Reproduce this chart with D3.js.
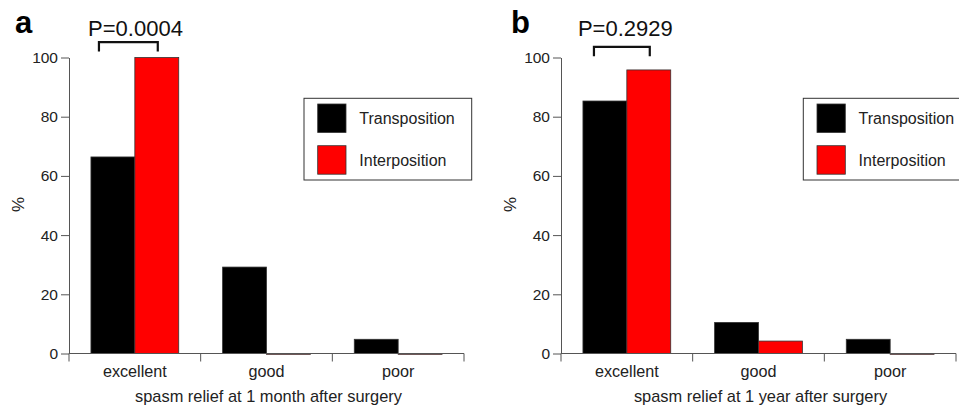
<!DOCTYPE html>
<html>
<head>
<meta charset="utf-8">
<script src="https://cdn.jsdelivr.net/npm/d3@7"></script>
<style>
  body { margin: 0; background: #fff; }
  svg { display: block; font-family: 'Liberation Sans', Arial, sans-serif; }
</style>
</head>
<body>
<div id="chart"></div>
<script>
// data (percent of patients)
const categories = ['excellent', 'good', 'poor'];
const series = ['Transposition', 'Interposition'];
const colors = ['#000000', '#ff0000'];
const yTicks = [0, 20, 40, 60, 80, 100];

const monthTransposition = [66.4, 29.2, 4.8];
const monthInterposition = [100, 0, 0];
const yearTransposition = [85.3, 10.5, 4.8];
const yearInterposition = [95.8, 4.2, 0];

const panels = [
  {
    letter: 'a', left: 69, legendX: 235, bracketY: 105.2, bracketL: 8,
    pText: 'P=0.0004', pX: 66.5,
    title: 'spasm relief at 1 month after surgery',
    values: [monthTransposition, monthInterposition],
  },
  {
    letter: 'b', left: 561, legendX: 242.3, bracketY: 103.6, bracketL: 11,
    pText: 'P=0.2929', pX: 64.3,
    title: 'spasm relief at 1 year after surgery',
    values: [yearTransposition, yearInterposition],
  },
];

const W = 959;
const H = 408;
const plotTop = 57.5;
const plotW = 395;
const plotH = 296;
const textColor = '#222';
const axisColor = '#555';

const svg = d3.select('#chart').append('svg')
  .attr('width', W)
  .attr('height', H);

svg.append('rect').attr('width', W).attr('height', H).attr('fill', '#fff');

const x = d3.scaleBand()
  .domain(categories)
  .range([0, plotW]);

const xSub = d3.scaleBand()
  .domain(series)
  .range([0, x.bandwidth()])
  .paddingOuter(0.5);

const y = d3.scaleLinear()
  .domain([0, 100])
  .range([plotH, 0]);

panels.forEach((p) => {
  const g = svg.append('g')
    .attr('transform', `translate(${p.left},${plotTop})`);

  // bars
  series.forEach((s, si) => {
    g.selectAll(`.bar-${si}`)
      .data(categories.map((c, ci) => ({ c, v: p.values[si][ci] })))
      .enter().append('rect')
      .attr('x', (d) => x(d.c) + xSub(s))
      .attr('y', (d) => y(d.v))
      .attr('width', xSub.bandwidth())
      .attr('height', (d) => Math.max(y(0) - y(d.v), 0.8))
      .attr('fill', colors[si])
      .attr('stroke', '#333')
      .attr('stroke-width', 0.8);
  });

  // y axis
  const yAxis = g.append('g')
    .call(d3.axisLeft(y).tickValues(yTicks).tickSize(8).tickSizeOuter(0).tickPadding(3));
  yAxis.select('.domain').attr('stroke', axisColor);
  yAxis.selectAll('.tick line').attr('stroke', axisColor);
  yAxis.selectAll('.tick text')
    .attr('fill', textColor)
    .style('font-size', '15.5px')
    .style('font-family', 'Liberation Sans, Arial, sans-serif');

  // x axis: ticks at band edges, labels at band centres
  const xAxis = g.append('g')
    .attr('transform', `translate(0,${plotH})`);
  xAxis.append('line')
    .attr('x1', 0).attr('x2', plotW)
    .attr('stroke', axisColor);
  xAxis.selectAll('.edge')
    .data([...categories.map((c) => x(c)), plotW])
    .enter().append('line')
    .attr('x1', (d) => d).attr('x2', (d) => d)
    .attr('y1', 0).attr('y2', 8)
    .attr('stroke', axisColor);
  xAxis.selectAll('.lab')
    .data(categories)
    .enter().append('text')
    .attr('x', (d) => x(d) + x.bandwidth() / 2)
    .attr('y', 23.5)
    .attr('text-anchor', 'middle')
    .attr('fill', textColor)
    .style('font-size', '16.2px')
    .text((d) => d);

  // x title
  g.append('text')
    .attr('x', plotW / 2 + 2)
    .attr('y', plotH + 48.5)
    .attr('text-anchor', 'middle')
    .attr('fill', textColor)
    .style('font-size', '16.4px')
    .text(p.title);

  g.append('text')
    .attr('transform', `translate(${-45},${plotH * 0.5 - 1}) rotate(-90)`)
    .attr('text-anchor', 'middle')
    .attr('fill', textColor)
    .style('font-size', '17px')
    .text('%');

  // panel letter
  g.append('text')
    .attr('x', p.letter === 'a' ? -54 : -50)
    .attr('y', -24.5)
    .attr('fill', '#000')
    .style('font-size', '31px')
    .style('font-weight', 'bold')
    .text(p.letter);

  // significance bracket
  const bx1 = x(categories[0]) + xSub(series[0]) + p.bracketL;
  const bx2 = x(categories[0]) + xSub(series[1]) + xSub.bandwidth() / 2 + 1;
  const by = y(p.bracketY);
  g.append('path')
    .attr('d', `M${bx1},${by + 9.5}V${by}H${bx2}V${by + 9.5}`)
    .attr('fill', 'none')
    .attr('stroke', '#111')
    .attr('stroke-width', 2.2);
  g.append('text')
    .attr('x', p.pX)
    .attr('y', -21.5)
    .attr('text-anchor', 'middle')
    .attr('fill', '#111')
    .style('font-size', '22px')
    .text(p.pText);

  // legend
  const lg = g.append('g')
    .attr('transform', `translate(${p.legendX},${y(100) + 40.8})`);
  lg.append('rect')
    .attr('width', 167.7).attr('height', 81.7)
    .attr('fill', '#fff')
    .attr('stroke', '#333')
    .attr('stroke-width', 1);
  series.forEach((s, si) => {
    lg.append('rect')
      .attr('x', 13.7).attr('y', 5.7 + si * 41.7)
      .attr('width', 28.3).attr('height', 28.5)
      .attr('fill', colors[si])
      .attr('stroke', '#333')
      .attr('stroke-width', 0.8);
    lg.append('text')
      .attr('x', 55.3).attr('y', 20 + si * 41.7)
      .attr('dy', '0.35em')
      .attr('fill', textColor)
      .style('font-size', '16px')
      .text(s);
  });
});
</script>
</body>
</html>
